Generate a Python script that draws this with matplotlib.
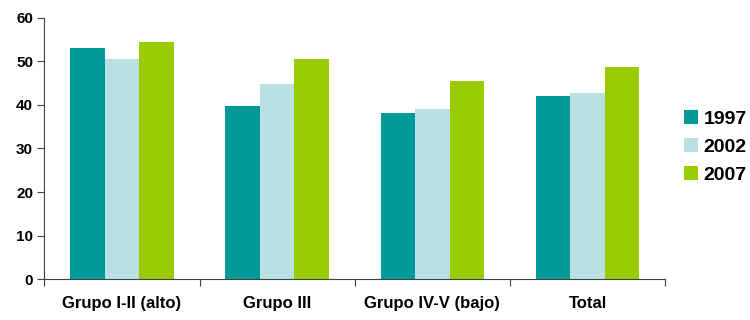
import matplotlib.pyplot as plt
import numpy as np

plt.rcParams['font.family'] = ['Liberation Sans', 'DejaVu Sans']
plt.rcParams['font.weight'] = 'bold'

grupos = ["Grupo I-II (alto)", "Grupo III", "Grupo IV-V (bajo)", "Total"]
anios = ["1997", "2002", "2007"]
v1997 = [53.2, 39.8, 38.1, 42.1]
v2002 = [50.6, 44.8, 39.0, 42.7]
v2007 = [54.4, 50.6, 45.5, 48.7]
colores = ["#009999", "#bae0e3", "#99cc00"]

fig = plt.figure(figsize=(7.5, 3.2), dpi=100)
ax = fig.add_axes([0.059, 0.128, 0.828, 0.816])

x = np.arange(len(grupos))
w = 0.222
for i, (serie, lab) in enumerate(zip([v1997, v2002, v2007], anios)):
    ax.bar(x + (i - 1) * w, serie, width=w, color=colores[i], label=lab)

ax.set_xlim(-0.5, len(grupos) - 0.5)
ax.set_ylim(0, 60)
ax.set_yticks(range(0, 61, 10))
ax.tick_params(axis='y', labelsize=11, length=5, width=0.8, color='#404040', pad=3)

# group separators as major ticks, names on minor ticks
ax.set_xticks(np.arange(-0.5, len(grupos), 1.0))
ax.set_xticklabels([])
ax.set_xticks(x, minor=True)
ax.set_xticklabels(grupos, minor=True, fontsize=12)
ax.tick_params(axis='x', which='major', length=5, width=0.8, color='#404040')
ax.tick_params(axis='x', which='minor', length=0, pad=12)

for s in ['top', 'right']:
    ax.spines[s].set_visible(False)
for s in ['left', 'bottom']:
    ax.spines[s].set_color('#404040')
    ax.spines[s].set_linewidth(0.8)

ax.legend(loc='center left', bbox_to_anchor=(1.03, 0.505), frameon=False,
          fontsize=14, handlelength=0.72, handleheight=0.75, handletextpad=0.3,
          labelspacing=0.52, borderpad=0, borderaxespad=0)

fig.savefig("out.png", dpi=100)
